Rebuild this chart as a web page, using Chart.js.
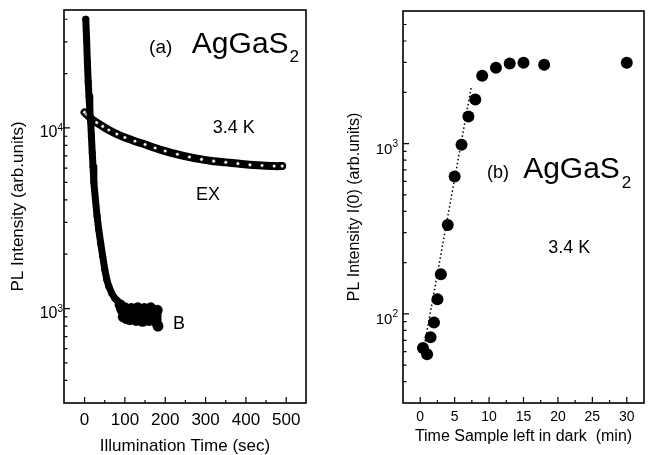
<!DOCTYPE html>
<html lang="en">
<head>
<meta charset="UTF-8">
<title>AgGaS2 PL intensity</title>
<script src="https://cdn.jsdelivr.net/npm/chart.js"></script>
<style>
  body { margin: 0; background: #fff; }
  #wrap { position: relative; width: 652px; height: 455px; }
  .panel { position: absolute; top: 0; height: 455px; }
</style>
</head>
<body>
<div id="wrap">
  <div class="panel" style="left:0;width:330px"><canvas id="chartA" width="330" height="455"></canvas></div>
  <div class="panel" style="left:330px;width:322px"><canvas id="chartB" width="322" height="455"></canvas></div>
</div>
<script>
// ---- panel (a): PL vs illumination time ----
const bTime = [3,5,7,9,11,13,15,17,19,21,23,27,31,35,40,45,50,55,60,67,75,82,88,92,96,100,104,108,112,116,120,124,128,132,136,140,144,148,152,156,160,164,168,172,176,180,182];
const bPL = [40000,31000,23000,18000,15000,12500,11000,9000,7300,6100,5000,4000,3250,2750,2300,1950,1650,1450,1330,1220,1140,1100,1050,990,900,1010,880,980,870,1000,890,990,860,1010,880,970,850,1000,880,980,860,1010,890,960,850,980,800];
const exTime = [0,5,10,20,30,45,60,80,100,125,150,175,200,230,260,290,320,350,380,410,440,470,490];
const exPL = [12200,11900,11600,11100,10700,10200,9750,9250,8850,8450,8100,7750,7450,7150,6900,6700,6550,6450,6350,6250,6200,6150,6150];
const aXTicks = [0, 100, 200, 300, 400, 500];
const aXMinor = [50, 150, 250, 350, 450];
const aYTicks = [1000, 10000];
const aYTickBase = ['10', '10'];
const aYTickExp = ['3', '4'];

// ---- panel (b): I(0) vs time left in dark ----
const darkTime = [0.4, 1.0, 1.5, 2.0, 2.5, 3.0, 4.0, 5.0, 6.0, 7.0, 8.0, 9.0, 11, 13, 15, 18, 30];
const darkPL = [63, 58, 73, 89, 122, 171, 333, 641, 983, 1440, 1815, 2500, 2790, 2950, 2980, 2900, 2980];
const fitTime = [0.5, 7.45];
const fitPL = [62, 2185];
const bXTicks = [0, 5, 10, 15, 20, 25, 30];
const bXMinor = [2.5, 7.5, 12.5, 17.5, 22.5, 27.5];
const bYTicks = [100, 1000];
const bYTickBase = ['10', '10'];
const bYTickExp = ['2', '3'];

const FONT = '"Liberation Sans", Arial, sans-serif';
Chart.defaults.font.family = FONT;
Chart.defaults.color = '#000';

function pts(xs, ys) { return xs.map((x, i) => ({ x, y: ys[i] })); }

function logMinor(min, max) {
  const out = [];
  for (let d = Math.floor(Math.log10(min)); d <= Math.ceil(Math.log10(max)); d++) {
    for (let m = 2; m <= 9; m++) {
      const v = m * Math.pow(10, d);
      if (v > min && v < max) out.push(v);
    }
  }
  return out;
}

// frame, inward ticks and 10^n labels
const frameTicks = {
  id: 'frameTicks',
  afterDatasetsDraw(chart, args, o) {
    const { ctx, chartArea: a, scales: { x, y } } = chart;
    ctx.save();
    ctx.strokeStyle = '#000';
    ctx.lineWidth = 1.2;
    ctx.beginPath();
    o.xMajor.forEach(v => { const p = x.getPixelForValue(v); ctx.moveTo(p, a.bottom); ctx.lineTo(p, a.bottom - 6); });
    o.xMinor.forEach(v => { const p = x.getPixelForValue(v); ctx.moveTo(p, a.bottom); ctx.lineTo(p, a.bottom - 3); });
    o.yMajor.forEach(v => { const p = y.getPixelForValue(v); ctx.moveTo(a.left, p); ctx.lineTo(a.left + 6, p); });
    logMinor(y.min, y.max).forEach(v => { const p = y.getPixelForValue(v); ctx.moveTo(a.left, p); ctx.lineTo(a.left + 3.5, p); });
    ctx.stroke();
    ctx.lineWidth = 1.6;
    ctx.strokeRect(a.left, a.top, a.right - a.left, a.bottom - a.top);

    ctx.fillStyle = '#000';
    ctx.textAlign = 'right';
    ctx.textBaseline = 'alphabetic';
    const right = a.left - o.labelGap;
    o.yMajor.forEach((v, i) => {
      const p = y.getPixelForValue(v);
      ctx.font = o.expSize + 'px ' + FONT;
      const ew = ctx.measureText(o.yExp[i]).width;
      ctx.fillText(o.yExp[i], right, p + 3);
      ctx.font = o.baseSize + 'px ' + FONT;
      ctx.fillText(o.yBase[i], right - ew, p + o.baseDrop);
    });
    ctx.restore();
  }
};

// panel labels placed in data units
const panelText = {
  id: 'panelText',
  afterDraw(chart, args, o) {
    const { ctx, scales: { x, y } } = chart;
    ctx.save();
    ctx.fillStyle = '#000';
    ctx.textAlign = 'left';
    ctx.textBaseline = 'alphabetic';
    o.items.forEach(it => {
      const px = x.getPixelForValue(it.x), py = y.getPixelForValue(it.y);
      ctx.font = it.size + 'px ' + FONT;
      ctx.fillText(it.text, px, py);
      if (it.sub) {
        const m = ctx.measureText(it.text);
        ctx.font = it.subSize + 'px ' + FONT;
        ctx.fillText(it.sub, px + m.actualBoundingBoxRight + it.subGap, py + it.subDrop);
      }
    });
    ctx.restore();
  }
};

function fixedTicks(values) {
  return scale => { scale.ticks = values.map(v => ({ value: v })); };
}

new Chart(document.getElementById('chartA'), {
  type: 'line',
  data: {
    datasets: [{
      label: 'B',
      data: pts(bTime, bPL),
      borderColor: '#000',
      borderWidth: 7,
      borderJoinStyle: 'round',
      borderCapStyle: 'round',
      // the scattered tail reads as a thicker blob in the original
      pointRadius: c => (c.raw && c.raw.x > 85 ? 5.5 : 3.5),
      pointBackgroundColor: '#000',
      pointBorderWidth: 0,
      tension: 0
    }, {
      label: 'EX',
      data: pts(exTime, exPL),
      borderColor: '#000',
      borderWidth: 8,
      borderJoinStyle: 'round',
      borderCapStyle: 'round',
      pointRadius: 1.8,
      pointBackgroundColor: '#fff',
      pointBorderColor: '#000',
      pointBorderWidth: 0.6,
      tension: 0.3
    }]
  },
  options: {
    responsive: false,
    animation: false,
    devicePixelRatio: 1,
    layout: { padding: { left: 0, right: 24, top: 10, bottom: 0 } },
    plugins: {
      legend: { display: false },
      tooltip: { enabled: false },
      frameTicks: { xMajor: aXTicks, xMinor: aXMinor, yMajor: aYTicks, yBase: aYTickBase, yExp: aYTickExp,
                    baseSize: 16, expSize: 10, baseDrop: 9, labelGap: 1 },
      panelText: {
        items: [
          { text: '(a)', x: 160, y: 25900, size: 19 },
          { text: 'AgGaS', x: 266, y: 25900, size: 30, sub: '2', subSize: 17, subGap: 2, subDrop: 9 },
          { text: '3.4 K', x: 318, y: 9380, size: 18 },
          { text: 'EX', x: 276, y: 4000, size: 18 },
          { text: 'B', x: 219, y: 766, size: 18 }
        ]
      }
    },
    scales: {
      x: {
        type: 'linear', min: -51, max: 549,
        afterBuildTicks: fixedTicks(aXTicks),
        afterFit: s => { s.height = 52; },
        grid: { display: false, drawTicks: false },
        border: { display: false },
        ticks: { font: { size: 17 }, padding: 7, maxRotation: 0 },
        title: { display: true, text: 'Illumination Time (sec)', font: { size: 17, lineHeight: 1 }, padding: { top: 0, bottom: 0 } }
      },
      y: {
        type: 'logarithmic', min: 300, max: 45000,
        afterBuildTicks: fixedTicks(aYTicks),
        afterFit: s => { s.width = 64; },
        grid: { display: false, drawTicks: false },
        border: { display: false },
        ticks: { display: false },
        title: { display: true, text: 'PL Intensity (arb.units)', font: { size: 17, lineHeight: 1.2 }, padding: { top: 8, bottom: 0 } }
      }
    }
  },
  plugins: [frameTicks, panelText]
});

new Chart(document.getElementById('chartB'), {
  type: 'scatter',
  data: {
    datasets: [{
      label: 'I(0)',
      data: pts(darkTime, darkPL),
      pointRadius: 6,
      pointBackgroundColor: '#000',
      pointBorderWidth: 0,
      showLine: false
    }, {
      label: 'fit',
      type: 'line',
      data: pts(fitTime, fitPL),
      borderColor: '#000',
      borderWidth: 1.5,
      borderDash: [1.5, 2.5],
      pointRadius: 0
    }]
  },
  options: {
    responsive: false,
    animation: false,
    devicePixelRatio: 1,
    layout: { padding: { left: 0, right: 8, top: 11, bottom: 0 } },
    plugins: {
      legend: { display: false },
      tooltip: { enabled: false },
      frameTicks: { xMajor: bXTicks, xMinor: bXMinor, yMajor: bYTicks, yBase: bYTickBase, yExp: bYTickExp,
                    baseSize: 15, expSize: 10, baseDrop: 10, labelGap: 5 },
      panelText: {
        items: [
          { text: '(b)', x: 9.7, y: 632, size: 18 },
          { text: 'AgGaS', x: 14.95, y: 632, size: 30, sub: '2', subSize: 17, subGap: 3, subDrop: 10 },
          { text: '3.4 K', x: 18.6, y: 227, size: 18 }
        ]
      }
    },
    scales: {
      x: {
        type: 'linear', min: -2.5, max: 32.5,
        afterBuildTicks: fixedTicks(bXTicks),
        afterFit: s => { s.height = 52; },
        grid: { display: false, drawTicks: false },
        border: { display: false },
        ticks: { font: { size: 14 }, padding: 6, maxRotation: 0 },
        title: { display: true, text: 'Time Sample left in dark  (min)', font: { size: 16, lineHeight: 1 }, padding: { top: 0, bottom: 10 } }
      },
      y: {
        type: 'logarithmic', min: 30, max: 6000,
        afterBuildTicks: fixedTicks(bYTicks),
        afterFit: s => { s.width = 73; },
        grid: { display: false, drawTicks: false },
        border: { display: false },
        ticks: { display: false },
        title: { display: true, text: 'PL Intensity I(0) (arb.units)', font: { size: 16, lineHeight: 1.2 }, padding: { top: 15, bottom: 0 } }
      }
    }
  },
  plugins: [frameTicks, panelText]
});
</script>
</body>
</html>
